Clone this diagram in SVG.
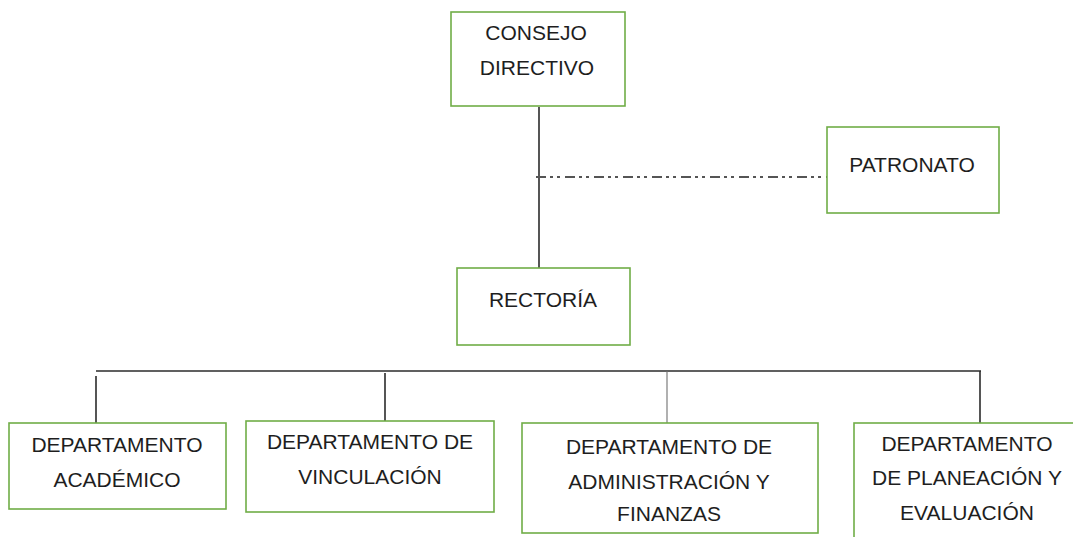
<svg xmlns="http://www.w3.org/2000/svg" width="1073" height="537" viewBox="0 0 1073 537">
<style>
.box{fill:#fff;stroke:#70AD47;stroke-width:1.6}
.t{font-family:"Liberation Sans",Arial,sans-serif;font-size:21px;fill:#1e1e1e;text-anchor:middle}
.ln{stroke:#2b2b2b;stroke-width:1.6;fill:none}
.thin{stroke:#707070;stroke-width:1.1;fill:none}
.dd{stroke:#555;stroke-width:2;fill:none;stroke-dasharray:10 4 3 4 3 5}
</style>
<rect width="1073" height="537" fill="#fff"/>
<g id="connectors">
<line class="ln" x1="539" y1="107" x2="539" y2="270"/>
<line class="dd" x1="536" y1="177" x2="827" y2="177"/>
<line class="ln" x1="96" y1="371" x2="981" y2="371"/>
<line class="ln" x1="96" y1="376" x2="96" y2="423"/>
<line class="ln" x1="385" y1="373" x2="385" y2="421"/>
<line class="thin" x1="667" y1="371" x2="667" y2="423"/>
<line class="ln" x1="980" y1="371" x2="980" y2="423"/>
</g>
<g id="consejo">
<rect class="box" x="451" y="12" width="174" height="94"/>
<text class="t" x="536" y="40">CONSEJO</text>
<text class="t" x="537" y="75">DIRECTIVO</text>
</g>
<g id="patronato">
<rect class="box" x="827" y="127" width="172" height="86"/>
<text class="t" x="912" y="172">PATRONATO</text>
</g>
<g id="rectoria">
<rect class="box" x="457" y="268" width="173" height="77"/>
<text class="t" x="543" y="307">RECTORÍA</text>
</g>
<g id="academico">
<rect class="box" x="9" y="423" width="217" height="86"/>
<text class="t" x="117" y="452">DEPARTAMENTO</text>
<text class="t" x="117" y="487">ACADÉMICO</text>
</g>
<g id="vinculacion">
<rect class="box" x="246" y="421" width="248" height="91"/>
<text class="t" x="370" y="449">DEPARTAMENTO DE</text>
<text class="t" x="370" y="484">VINCULACIÓN</text>
</g>
<g id="administracion">
<rect class="box" x="522" y="423" width="296" height="110"/>
<text class="t" x="669" y="454">DEPARTAMENTO DE</text>
<text class="t" x="669" y="489">ADMINISTRACIÓN Y</text>
<text class="t" x="669" y="521">FINANZAS</text>
</g>
<g id="planeacion">
<rect class="box" x="854" y="423" width="226" height="120"/>
<text class="t" x="967" y="451">DEPARTAMENTO</text>
<text class="t" x="967" y="485">DE PLANEACIÓN Y</text>
<text class="t" x="967" y="520">EVALUACIÓN</text>
</g>
</svg>
